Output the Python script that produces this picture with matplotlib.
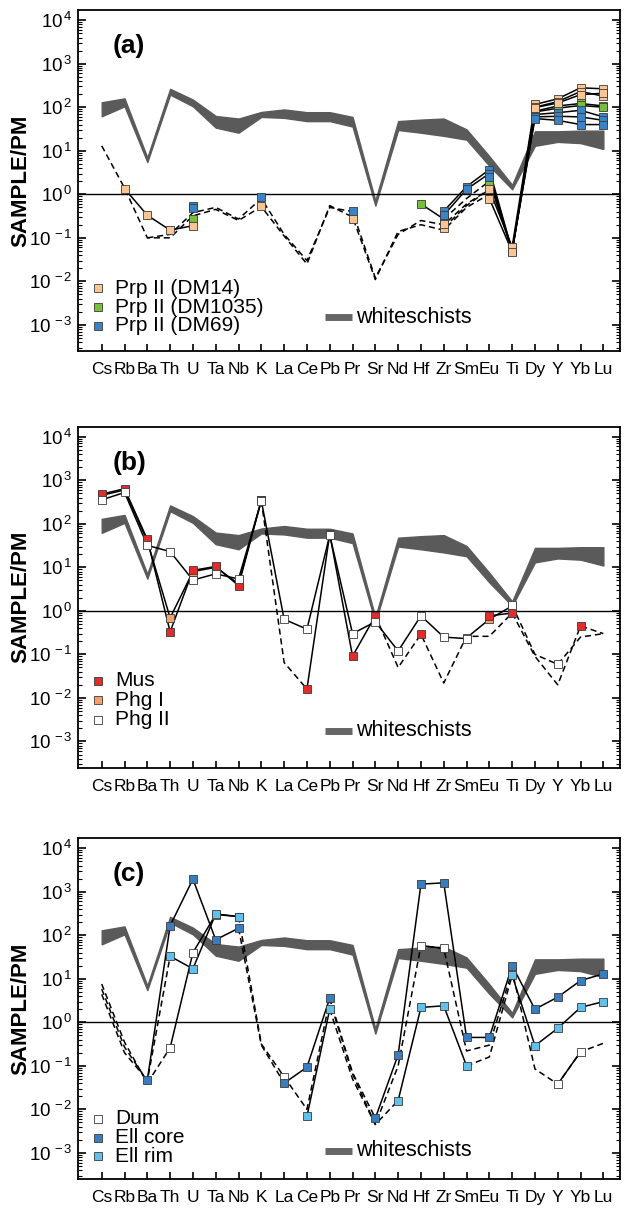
import numpy as np
import matplotlib
matplotlib.use('Agg')
import matplotlib.pyplot as plt
from matplotlib.ticker import LogLocator, NullFormatter

plt.rcParams['font.family'] = ['Liberation Sans', 'DejaVu Sans']
plt.rcParams['mathtext.fontset'] = 'custom'
plt.rcParams['mathtext.rm'] = 'Liberation Sans'
plt.rcParams['mathtext.it'] = 'Liberation Sans:italic'
plt.rcParams['mathtext.bf'] = 'Liberation Sans:bold'
plt.rcParams['axes.unicode_minus'] = False

n = np.nan
elements = ['Cs', 'Rb', 'Ba', 'Th', 'U', 'Ta', 'Nb', 'K', 'La', 'Ce', 'Pb', 'Pr',
            'Sr', 'Nd', 'Hf', 'Zr', 'Sm', 'Eu', 'Ti', 'Dy', 'Y', 'Yb', 'Lu']

# whiteschists field (upper / lower bound)
ws_hi = [130, 160, 7.0, 265, 150, 63, 55, 78, 89, 77, 77, 60, 0.72, 48, 52, 55, 31, 7.5, 1.65, 28, 28, 29, 29]
ws_lo = [62, 105, 5.5, 195, 105, 34, 26, 60, 57, 48, 48, 36, 0.55, 30, 26, 22, 18, 4.5, 1.3, 13, 16, 15, 11]

# (a) Prp II
a_dm14_1 = [n, 1.35, 0.33, 0.15, 0.19, n, n, 0.55, n, n, n, 0.27, n, n, n, 0.17, n, 1.3, 0.062, 116, 156, 280, 265]
a_dm14_2 = [n, n, n, n, n, n, n, n, n, n, n, n, n, n, n, 0.21, n, 0.8, 0.048, 100, 135, 230, 180]
a_dm14_3 = [n, n, n, n, n, n, n, n, n, n, n, n, n, n, n, n, n, n, n, 98, 125, 195, 210]
a_dm1035_1 = [n, n, n, n, 0.27, n, n, n, n, n, n, n, n, n, 0.6, 0.27, n, 2.0, 0.05, 81, 107, 122, 107]
a_dm1035_2 = [n, n, n, n, n, n, n, n, n, n, n, n, n, n, n, n, n, n, n, 78, 95, 110, 100]
a_dm69_1 = [n, n, n, n, 0.55, n, n, 0.88, n, n, n, 0.41, n, n, n, 0.41, 1.5, 3.7, 0.05, 68, 75, 85, 60]
a_dm69_2 = [n, n, n, n, 0.48, n, n, n, n, n, n, n, n, n, n, 0.33, 1.3, 3.0, 0.05, 60, 62, 60, 50]
a_dm69_3 = [n, n, n, n, n, n, n, n, n, n, n, n, n, n, n, n, n, 2.5, 0.05, 55, 50, 40, 40]
a_dash_1 = [13, 1.4, 0.1, 0.1, 0.32, 0.45, 0.25, 0.52, 0.11, 0.025, 0.55, 0.3, 0.011, 0.14, 0.2, 0.15, 0.5, 1.0, n, n, n, n, n]
a_dash_2 = [n, n, 0.1, 0.12, 0.38, 0.5, 0.27, 0.8, 0.12, 0.03, 0.5, 0.4, 0.012, 0.12, 0.25, 0.2, 0.6, 1.3, n, n, n, n, n]
a_dash_3 = [n, n, n, n, n, n, n, n, n, n, n, n, n, n, n, 0.17, 0.55, 1.3, n, n, n, n, n]
a_dash_4 = [n, n, n, n, n, n, n, n, n, n, n, n, n, n, n, 0.27, 0.8, 2.0, n, n, n, n, n]

# (b) white micas
b_mus = [480, 640, 44, 0.33, 8.5, 10.5, 3.8, 350, n, 0.016, 58, 0.091, 0.77, n, 0.29, n, n, 0.77, 0.89, n, n, 0.45, n]
b_phg1 = [450, 600, 40, 0.69, 8.0, 10, 4.2, 345, n, n, n, n, n, n, n, n, 0.24, 0.64, 1.3, n, n, n, n]
b_phg2 = [355, 525, 32, 23, 5.1, 7.1, 5.4, 340, 0.64, 0.38, 55, 0.30, 0.56, 0.12, 0.77, 0.25, 0.23, n, 1.35, n, 0.059, n, n]
b_dash_1 = [n, n, n, n, n, n, n, 340, 0.065, 0.016, n, n, n, n, n, n, n, n, n, n, n, n, n]
b_dash_2 = [n, n, n, n, n, n, n, n, n, n, n, n, 0.77, 0.05, 0.29, 0.022, 0.26, 0.26, 0.89, 0.09, 0.02, 0.45, 0.3]
b_dash_3 = [n, n, n, n, n, n, n, n, n, n, n, n, n, n, n, n, n, n, 1.35, 0.1, 0.059, 0.25, 0.3]

# (c) Dum / Ell
c_dum = [n, n, n, 0.26, 40, 300, 270, n, 0.056, n, n, n, n, n, 58, 50, n, n, 15, n, 0.038, 0.21, n]
c_core = [n, n, 0.047, 166, 1950, 79, 145, n, 0.040, 0.093, 3.6, n, 0.0063, 0.18, 1500, 1600, 0.45, 0.45, 20, 2.0, 3.8, 9.1, 13]
c_rim = [n, n, n, 33, 17, 310, 268, n, n, 0.0069, 2.0, n, n, 0.016, 2.2, 2.4, 0.10, n, 12, 0.29, 0.73, 2.2, 3.0]
c_dash_1 = [7.6, 0.35, 0.04, 0.26, n, n, 270, 0.32, 0.056, 0.01, 3.2, 0.065, 0.0045, 0.1, 58, 50, 0.22, 0.3, 15, 0.085, 0.038, 0.21, 0.33]
c_dash_2 = [5.8, 0.27, 0.045, 33, n, n, n, n, n, n, 2.0, 0.05, 0.0045, 0.016, n, n, 0.10, 0.16, 12, n, n, n, n]
c_dash_3 = [4.4, 0.2, 0.047, n, n, n, 145, 0.3, 0.04, n, 3.6, 0.07, 0.0063, n, n, n, n, n, n, n, n, n, n]

band_col = '#5a5a5a'
x = np.arange(len(elements))

fig = plt.figure(figsize=(6.24, 12.12), dpi=100)


def draw_panel(ax, tag, samples, dashes, legend, leg_y, ws_y):
    ax.fill_between(x, ws_lo, ws_hi, color=band_col, edgecolor=band_col, lw=1.0, zorder=1)
    ax.axhline(1, color='black', lw=1.0, zorder=2)
    for d in dashes:
        ax.plot(x, d, color='black', lw=1.1, ls=(0, (4, 2.5)), zorder=3)
    for vals, col in samples:
        ax.plot(x, vals, color='black', lw=1.1, zorder=4)
    for vals, col in samples:
        ax.plot(x, vals, ls='none', marker='s', ms=5.8, mfc=col, mec='#3a3a3a', mew=0.6, zorder=5)

    ax.set_yscale('log')
    ax.set_xlim(-1.04, 22.73)
    ax.set_ylim(10 ** -3.6, 10 ** 4.23)
    yt = [10.0 ** k for k in range(-3, 5)]
    ax.set_yticks(yt, labels=['$10^{\\,%d}$' % k for k in range(-3, 5)])
    ax.yaxis.set_minor_locator(LogLocator(base=10, subs=np.arange(2, 10), numticks=30))
    ax.yaxis.set_minor_formatter(NullFormatter())
    ax.tick_params(axis='y', which='major', direction='in', left=True, right=True,
                   length=6, width=1.2, labelsize=13.5, pad=4)
    ax.tick_params(axis='y', which='minor', direction='in', left=True, right=True,
                   length=3, width=0.8)
    ax.set_xticks(x, labels=elements)
    ax.tick_params(axis='x', direction='in', length=5, width=1.2, labelsize=12.5, pad=8)
    for s in ax.spines.values():
        s.set_linewidth(1.3)

    ax.text(0.063, 0.894, tag, transform=ax.transAxes, fontsize=19, fontweight='bold',
            ha='left', va='center')

    tr = ax.get_yaxis_transform()
    for (name, col), yy in zip(legend, leg_y):
        ax.plot(0.037, 10 ** yy, transform=tr, marker='s', ms=5.2, mfc=col, mec='#3a3a3a',
                mew=0.6, clip_on=False, zorder=6)
        ax.text(0.068, 10 ** yy, name, transform=tr, fontsize=15, va='center', ha='left')
    ax.plot([0.455, 0.505], [10 ** ws_y, 10 ** ws_y], transform=tr, color='#666666', lw=5,
            solid_capstyle='butt')
    ax.text(0.513, 10 ** ws_y, 'whiteschists', transform=tr, fontsize=15.5, va='center', ha='left')


col14, col1035, col69 = '#f9c594', '#78be3c', '#3b83c5'
ax_a = fig.add_axes([0.125, 0.7104, 0.8686, 0.2812])
draw_panel(ax_a, '(a)',
           [(a_dm1035_1, col1035), (a_dm1035_2, col1035),
            (a_dm69_1, col69), (a_dm69_2, col69), (a_dm69_3, col69),
            (a_dm14_1, col14), (a_dm14_2, col14), (a_dm14_3, col14)],
           [a_dash_1, a_dash_2, a_dash_3, a_dash_4],
           [('Prp II (DM14)', col14), ('Prp II (DM1035)', col1035), ('Prp II (DM69)', col69)],
           [-2.16, -2.59, -3.02], -2.82)

col_mus, col_phg1, col_phg2 = '#e32b2b', '#f2a06c', 'white'
ax_b = fig.add_axes([0.125, 0.3667, 0.8686, 0.2812])
draw_panel(ax_b, '(b)',
           [(b_phg1, col_phg1), (b_mus, col_mus), (b_phg2, col_phg2)],
           [b_dash_1, b_dash_2, b_dash_3],
           [('Mus', col_mus), ('Phg I', col_phg1), ('Phg II', col_phg2)],
           [-1.6, -2.05, -2.5], -2.75)

col_dum, col_core, col_rim = 'white', '#3a7cc0', '#62c0ec'
ax_c = fig.add_axes([0.125, 0.0272, 0.8686, 0.2812])
draw_panel(ax_c, '(c)',
           [(c_dum, col_dum), (c_core, col_core), (c_rim, col_rim)],
           [c_dash_1, c_dash_2, c_dash_3],
           [('Dum', col_dum), ('Ell core', col_core), ('Ell rim', col_rim)],
           [-2.22, -2.65, -3.08], -2.95)

for ax in (ax_a, ax_b, ax_c):
    pos = ax.get_position()
    fig.text(0.033, pos.y0 + pos.height / 2, 'SAMPLE/PM', rotation=90, fontsize=16,
             fontweight='bold', ha='center', va='center')

fig.savefig('out.png', dpi=100)
